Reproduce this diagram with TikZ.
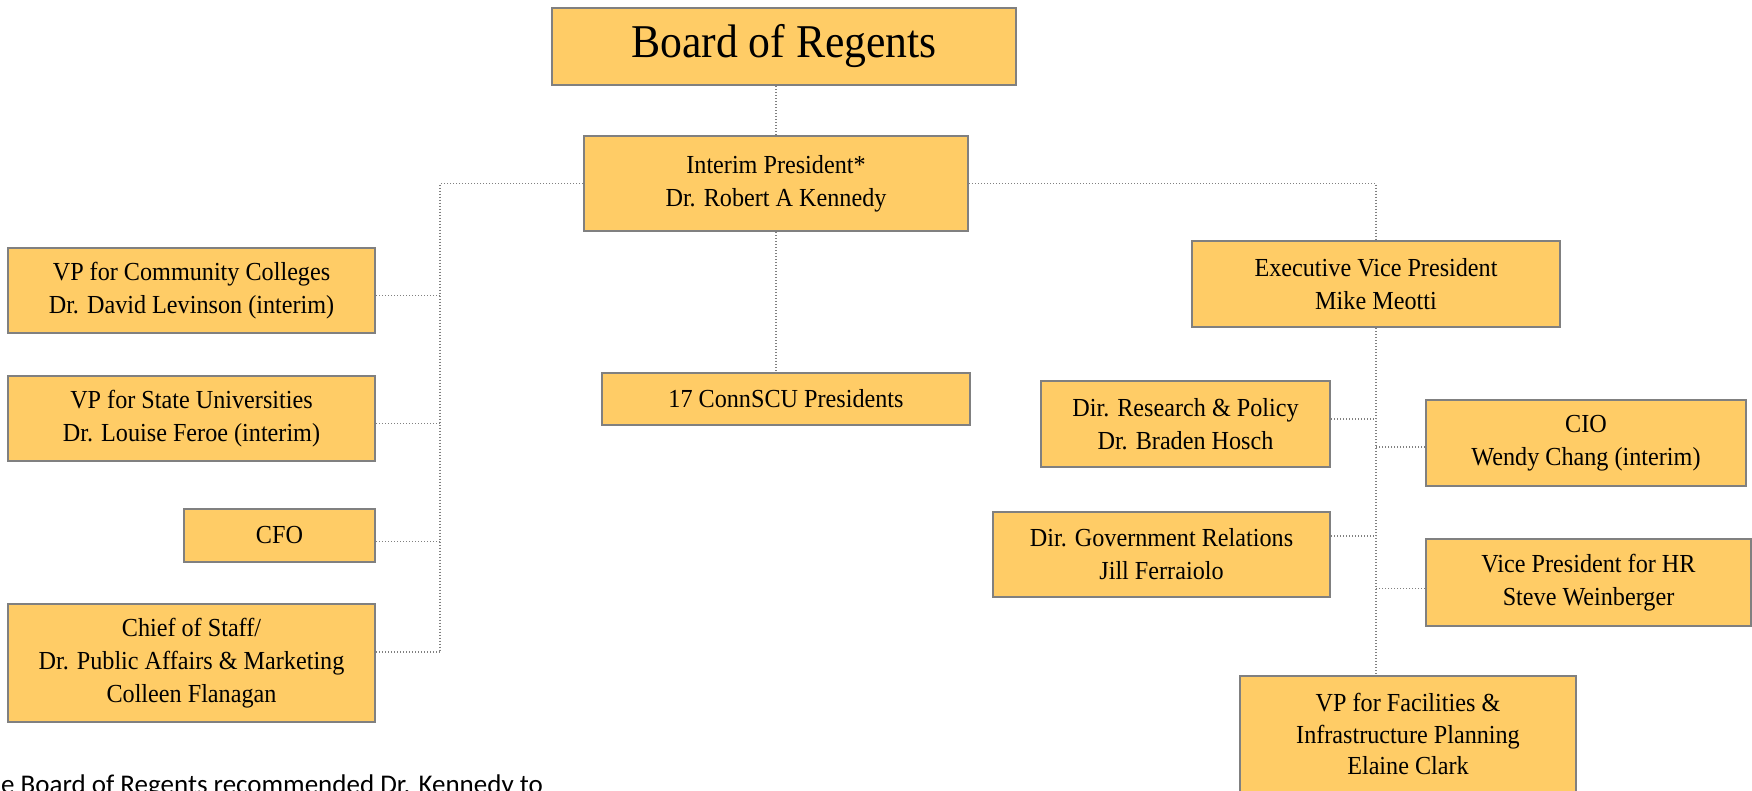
\documentclass[tikz,border=0pt]{standalone}
\usepackage{fontspec}
\setmainfont{Liberation Serif}[FakeStretch=0.93]
\newfontfamily\calibri{Carlito}
\definecolor{boxfill}{RGB}{255,204,102}
\definecolor{boxline}{RGB}{128,128,128}
\begin{document}
\begin{tikzpicture}[x=1pt,y=-1pt,
  orgbox/.style={draw=boxline,line width=2pt,fill=boxfill,inner sep=0pt,align=center,
    font=\fontsize{26}{33}\selectfont},
  link/.style={draw=boxline,line width=1.3pt,dash pattern=on 1.4pt off 1.6pt}]
\useasboundingbox (0,0) rectangle (1752,790);
% top
\node[orgbox,minimum width=464pt,minimum height=77pt,font=\fontsize{47}{50}\selectfont] (board) at (784,46.5) {Board of Regents};
\node[orgbox,minimum width=384pt,minimum height=95pt] (pres) at (776,183.5) {Interim President*\\Dr. Robert A Kennedy};
\node[orgbox,minimum width=368pt,minimum height=52pt] (conn) at (786,399) {17 ConnSCU Presidents};
% left
\node[orgbox,minimum width=367pt,minimum height=85pt] (vpcc) at (191.5,290.5) {VP for Community Colleges\\Dr. David Levinson (interim)};
\node[orgbox,minimum width=367pt,minimum height=85pt] (vpsu) at (191.5,418.5) {VP for State Universities\\Dr. Louise Feroe (interim)};
\node[orgbox,minimum width=191pt,minimum height=53pt] (cfo) at (279.5,535.5) {CFO};
\node[orgbox,minimum width=367pt,minimum height=118pt] (chief) at (191.5,663) {Chief of Staff/\\Dr. Public Affairs \& Marketing\\Colleen Flanagan};
% right
\node[orgbox,minimum width=368pt,minimum height=86pt] (evp) at (1376,284) {Executive Vice President\\Mike Meotti};
\node[orgbox,minimum width=289pt,minimum height=86pt] (dres) at (1185.5,424) {Dir. Research \& Policy\\Dr. Braden Hosch};
\node[orgbox,minimum width=320pt,minimum height=86pt] (cio) at (1586,443) {CIO\\Wendy Chang (interim)};
\node[orgbox,minimum width=337pt,minimum height=85pt] (dgov) at (1161.5,554.5) {Dir. Government Relations\\Jill Ferraiolo};
\node[orgbox,minimum width=325pt,minimum height=87pt] (vphr) at (1588.5,582.5) {Vice President for HR\\Steve Weinberger};
\node[orgbox,minimum width=336pt,minimum height=116pt,font=\fontsize{26}{31.5}\selectfont] (fac) at (1408,734) {VP for Facilities \&\\Infrastructure Planning\\Elaine Clark};
% note
\node[anchor=base west,inner sep=0pt,font=\calibri\fontsize{27}{30}\selectfont] (note) at (1,793) {e Board of Regents recommended Dr. Kennedy to};
% bus coordinates
\coordinate (lbus) at (440,183.5);
\coordinate (lbusend) at (440,652);
\coordinate (rbus) at (1376,183.5);
% connectors
\draw[link] (board.south -| pres.north) -- (pres.north);
\draw[link] (pres.south) -- (pres.south |- conn.north);
\draw[link] (pres.west) -- (lbus) -- (lbusend);
\draw[link] ([yshift=-5.2pt]vpcc.east) -- ([yshift=-5.2pt]vpcc.east -| lbus);
\draw[link] ([yshift=-5.2pt]vpsu.east) -- ([yshift=-5.2pt]vpsu.east -| lbus);
\draw[link] ([yshift=-6.2pt]cfo.east) -- ([yshift=-6.2pt]cfo.east -| lbus);
\draw[link] ([yshift=11pt]chief.east) -- (lbusend);
\draw[link] (pres.east) -- (rbus) -- (evp.north);
\draw[link] (evp.south) -- (evp.south |- fac.north);
\draw[link] ([yshift=5pt]dres.east) -- ([yshift=5pt]dres.east -| evp.south);
\draw[link] ([yshift=-4pt]cio.west) -- ([yshift=-4pt]cio.west -| evp.south);
\draw[link] ([yshift=18.5pt]dgov.east) -- ([yshift=18.5pt]dgov.east -| evp.south);
\draw[link] ([yshift=-6.2pt]vphr.west) -- ([yshift=-6.2pt]vphr.west -| evp.south);
\end{tikzpicture}
\end{document}
